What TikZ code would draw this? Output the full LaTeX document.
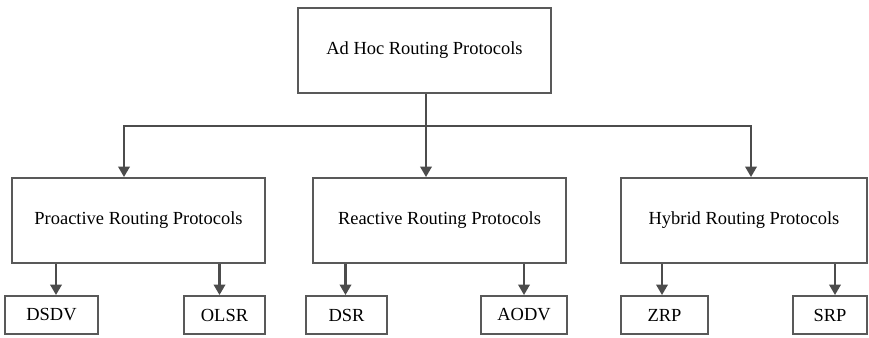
\documentclass[tikz,border=0pt]{standalone}
\usepackage{fontspec}
\setmainfont{Liberation Serif}
\usepackage{tikz}
\usetikzlibrary{arrows.meta,positioning}

\begin{document}
\begin{tikzpicture}[
  box/.style={draw=black!65,line width=1.1pt,fill=white,text=black,font=\fontsize{10.5}{12}\selectfont,inner sep=2pt,minimum width=5.06cm,minimum height=1.70cm},
  leaf/.style={box,minimum width=#1,minimum height=0.76cm},
  arrow/.style={-{Triangle[length=2.1mm,width=2.3mm]},line width=1.25pt,draw=black!70}
]
\useasboundingbox (0,0) rectangle (17.38,6.76);

\node[box] (adhoc) at (8.49,5.75) {Ad Hoc Routing Protocols};
\node[box] (proactive) at (2.77,2.35) {Proactive Routing Protocols};
\node[box] (reactive) at (8.79,2.35) {Reactive Routing Protocols};
\node[box,minimum width=4.92cm] (hybrid) at (14.88,2.35) {Hybrid Routing Protocols};

\node[leaf=1.86cm] (dsdv) at (1.03,0.46) {DSDV};
\node[leaf=1.62cm] (olsr) at (4.49,0.46) {OLSR};
\node[leaf=1.62cm] (dsr) at (6.93,0.46) {DSR};
\node[leaf=1.72cm] (aodv) at (10.48,0.46) {AODV};
\node[leaf=1.74cm] (zrp) at (13.29,0.46) {ZRP};
\node[leaf=1.48cm] (srp) at (16.60,0.46) {SRP};

% split point below the root
\coordinate (split) at (8.52,4.24);
\coordinate (lft) at (2.48,4.24);
\coordinate (rgt) at (15.02,4.24);

\draw[line width=1.25pt,draw=black!70] (adhoc.south -| split) -- (split);
\draw[arrow] (split) -- (reactive.north -| split);
\draw[arrow] (split) -- (lft) -- (lft |- proactive.north);
\draw[arrow] (split) -- (rgt) -- (rgt |- hybrid.north);

\draw[arrow] ([xshift=0.09cm]proactive.south -| dsdv) -- ([xshift=0.09cm]dsdv.north);
\draw[arrow] ([xshift=-0.1cm]proactive.south -| olsr) -- ([xshift=-0.1cm]olsr.north);
\draw[arrow] ([xshift=-0.02cm]reactive.south -| dsr) -- ([xshift=-0.02cm]dsr.north);
\draw[arrow] (reactive.south -| aodv) -- (aodv);
\draw[arrow] ([xshift=-0.05cm]hybrid.south -| zrp) -- ([xshift=-0.05cm]zrp.north);
\draw[arrow] ([xshift=0.1cm]hybrid.south -| srp) -- ([xshift=0.1cm]srp.north);
\end{tikzpicture}
\end{document}
